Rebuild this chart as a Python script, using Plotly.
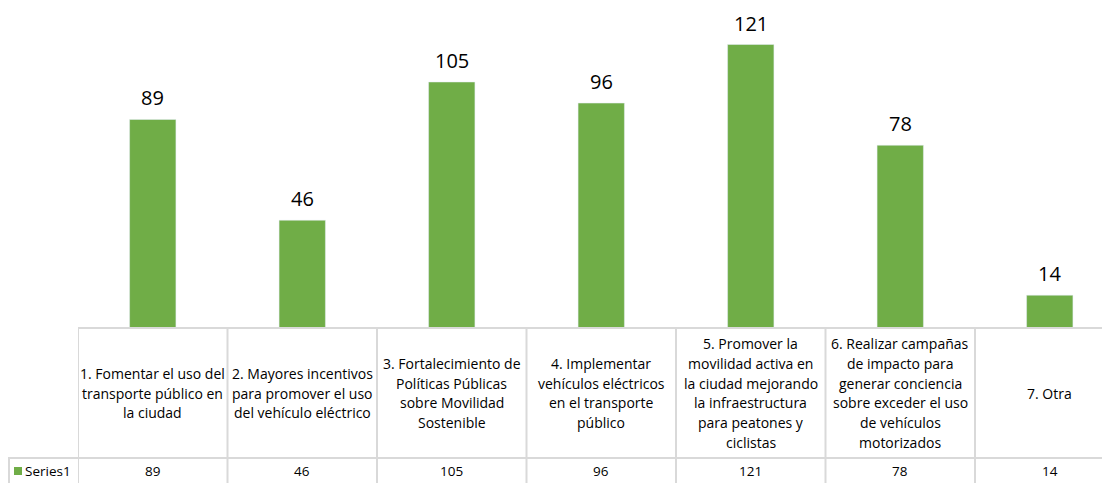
import plotly.graph_objects as go

categories = [
    "1. Fomentar el uso del<br>transporte público en<br>la ciudad",
    "2. Mayores incentivos<br>para promover el uso<br>del vehículo eléctrico",
    "3. Fortalecimiento de<br>Políticas Públicas<br>sobre Movilidad<br>Sostenible",
    "4. Implementar<br>vehículos eléctricos<br>en el transporte<br>público",
    "5. Promover la<br>movilidad activa en<br>la ciudad mejorando<br>la infraestructura<br>para peatones y<br>ciclistas",
    "6. Realizar campañas<br>de impacto para<br>generar conciencia<br>sobre exceder el uso<br>de vehículos<br>motorizados",
    "7. Otra",
]
values = [89, 46, 105, 96, 121, 78, 14]
series_name = "Series1"

OFF = 8  # page body margin
W, H = 1110 - OFF, 483 - OFF
FONT = "Open Sans"
GREEN = "#70AD47"
GRID = "#d9d9d9"

left_px = 78 - OFF
cell_px = 149.5
base_px = 328 - OFF
row_px = 458 - OFF
LINE_H = 19.8

x_idx = list(range(len(values)))
x_max = -0.5 + (W - left_px) / cell_px

fig = go.Figure()
fig.add_trace(go.Bar(
    x=x_idx, y=values, marker_color=GREEN, width=0.31,
    name=series_name, showlegend=False,
))

def py(px):
    return 1 - px / H

shapes = []
shapes.append(dict(type="line", xref="x", yref="paper", x0=-0.5, x1=x_max + 1,
                   y0=py(base_px), y1=py(base_px), line=dict(color=GRID, width=2)))
shapes.append(dict(type="line", xref="paper", yref="paper", x0=0, x1=1,
                   y0=py(row_px), y1=py(row_px), line=dict(color=GRID, width=2)))
for k in range(len(values) + 1):
    shapes.append(dict(type="line", xref="x", yref="paper", x0=k - 0.5, x1=k - 0.5,
                       y0=py(base_px), y1=0, line=dict(color=GRID, width=2)))
shapes.append(dict(type="line", xref="paper", yref="paper", x0=1 / W, x1=1 / W,
                   y0=py(row_px), y1=0, line=dict(color=GRID, width=2)))
shapes.append(dict(type="rect", xref="paper", yref="paper", x0=(14 - OFF) / W, x1=(22 - OFF) / W,
                   y0=py(475 - OFF), y1=py(467 - OFF), fillcolor=GREEN, line=dict(width=0)))

annotations = []
for i, v in enumerate(values):
    annotations.append(dict(x=i, y=v, xref="x", yref="y", text=str(v), showarrow=False,
                            xanchor="center", yanchor="bottom", yshift=6,
                            font=dict(family=FONT, size=20, color="#000000")))
mid = (base_px + row_px) / 2
for i, c in enumerate(categories):
    lines = c.split("<br>")
    n = len(lines)
    for j, ln in enumerate(lines):
        ypx = mid + (j - (n - 1) / 2) * LINE_H
        annotations.append(dict(x=i, y=py(ypx), xref="x", yref="paper",
                                text=ln, showarrow=False, xanchor="center", yanchor="middle",
                                align="center", font=dict(family=FONT, size=14, color="#000000")))
    annotations.append(dict(x=i, y=py(471 - OFF), xref="x", yref="paper",
                            text=str(values[i]), showarrow=False, xanchor="center",
                            yanchor="middle", font=dict(family=FONT, size=13.5, color="#000000")))
annotations.append(dict(x=(23 - OFF) / W, y=py(471 - OFF), xref="paper", yref="paper",
                        text=series_name, showarrow=False, xanchor="left", yanchor="middle",
                        font=dict(family=FONT, size=13.5, color="#000000")))

fig.update_layout(
    width=W, height=H, margin=dict(l=0, r=0, t=0, b=0),
    paper_bgcolor="white", plot_bgcolor="white",
    xaxis=dict(domain=[left_px / W, 1], range=[-0.5, x_max], showticklabels=False,
               showgrid=False, zeroline=False, showline=False, ticks="", fixedrange=True),
    yaxis=dict(domain=[py(base_px), 1], range=[0, 140 - OFF * 140 / 328], showticklabels=False,
               showgrid=False, zeroline=False, showline=False, ticks="", fixedrange=True),
    shapes=shapes, annotations=annotations, showlegend=False,
    font=dict(family=FONT),
)

fig.write_html("out.html", config={"displayModeBar": False})
